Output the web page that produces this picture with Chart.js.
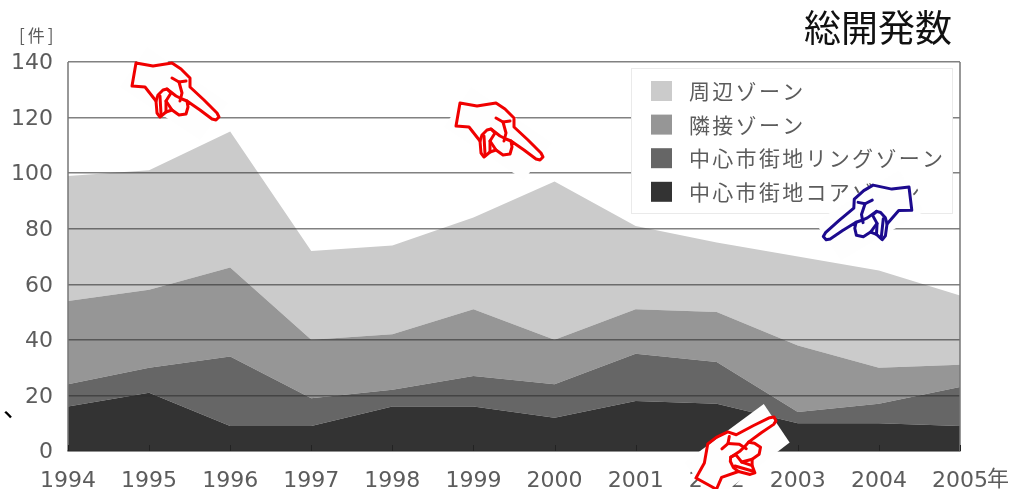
<!DOCTYPE html>
<html lang="ja">
<head>
<meta charset="utf-8">
<title>総開発数</title>
<script src="https://cdn.jsdelivr.net/npm/chart.js@4/dist/chart.umd.min.js"></script>
<style>
    html, body { margin: 0; padding: 0; background: #fff; }
    canvas { display: block; }
</style>
</head>
<body>
<canvas id="developmentChart" width="1013" height="489"></canvas>
<script>
// Number of developments per year and zone, stacked from the centre outwards.
const years = ['1994', '1995', '1996', '1997', '1998', '1999', '2000', '2001', '2002', '2003', '2004', '2005'];
const coreZone = [16, 21, 9, 9, 16, 16, 12, 18, 17, 10, 10, 9];
const ringZone = [8, 9, 25, 10, 6, 11, 12, 17, 15, 4, 7, 14];
const adjacentZone = [30, 28, 32, 21, 20, 24, 16, 16, 18, 24, 13, 8];
const outerZone = [45, 43, 49, 32, 32, 33, 57, 30, 25, 32, 35, 25];

const zoneNames = ['周辺ゾーン', '隣接ゾーン', '中心市街地リングゾーン', '中心市街地コアゾーン'];
const zoneColors = ['#cbcbcb', '#969696', '#666666', '#333333'];
const valueTicks = [0, 20, 40, 60, 80, 100, 120, 140];

const JP_FONT = '"Noto Sans CJK JP", "Noto Sans", sans-serif';
const LABEL_COLOR = '#5c5c5c';

// Outline of the pointing hand, drawn around its own origin at the cuff.
const handOutline = [[0, 0], [17, 3], [36, 0], [45, 6], [54, 15], [54, 24], [68, 37], [81, 50], [83, 54], [80, 57], [76, 56], [64, 47], [51, 38], [52, 44], [50, 51], [43, 52], [36, 47], [30, 49], [24, 54], [21, 50], [20, 38], [9, 24], [-4, 23]];
const handDetails = [
    [[20, 38], [22, 32], [27, 27], [31, 26], [35, 30], [30, 38], [30, 49]],
    [[31, 26], [40, 33], [46, 36], [51, 38]],
    [[30, 38], [36, 47]],
    [[36, 15], [43, 19], [50, 18]],
    [[43, 19], [46, 30], [44, 38]],
    [[24, 33], [25, 51]]
];
const handPatch = [[11, -16], [92, 40], [64, 77], [-16, 24]];

function tracePoints(ctx, points, close) {
    ctx.beginPath();
    points.forEach(([x, y], i) => (i ? ctx.lineTo(x, y) : ctx.moveTo(x, y)));
    if (close) {
        ctx.closePath();
    }
}

// Draws one hand with the white paper patch it was pasted on.
function drawHand(ctx, x, y, color, angle, mirrored) {
    ctx.save();
    ctx.translate(x, y);
    ctx.rotate(angle);
    ctx.scale(mirrored ? -1 : 1, 1);
    tracePoints(ctx, handPatch, true);
    ctx.fillStyle = '#fefefe';
    ctx.fill();
    ctx.strokeStyle = color;
    ctx.lineWidth = 3;
    ctx.lineJoin = 'round';
    ctx.lineCap = 'round';
    tracePoints(ctx, handOutline, true);
    ctx.stroke();
    handDetails.forEach(line => {
        tracePoints(ctx, line, false);
        ctx.stroke();
    });
    ctx.restore();
}

function drawText(ctx, text, x, y, font, color, spacing) {
    ctx.font = font;
    ctx.fillStyle = color;
    ctx.letterSpacing = spacing || '0px';
    ctx.textAlign = 'left';
    ctx.textBaseline = 'middle';
    ctx.fillText(text, x, y);
    ctx.letterSpacing = '0px';
}

// Frame edges, axis ticks inside the plot and the year unit.
const frameDetails = {
    id: 'frameDetails',
    afterDraw(chart) {
        const { ctx, chartArea, scales } = chart;
        ctx.save();
        ctx.strokeStyle = '#777';
        ctx.lineWidth = 1.5;
        ctx.beginPath();
        ctx.moveTo(chartArea.left, chartArea.top);
        ctx.lineTo(chartArea.left, chartArea.bottom);
        ctx.moveTo(chartArea.right, chartArea.top);
        ctx.lineTo(chartArea.right, chartArea.bottom);
        ctx.stroke();
        ctx.strokeStyle = '#222';
        ctx.lineWidth = 1;
        ctx.beginPath();
        years.forEach((year, i) => {
            const x = Math.round(scales.x.getPixelForTick(i)) + 0.5;
            ctx.moveTo(x, chartArea.bottom);
            ctx.lineTo(x, chartArea.bottom - 6);
        });
        ctx.stroke();
        drawText(ctx, '年', 987, 478, '22px ' + JP_FONT, LABEL_COLOR);
        ctx.restore();
    }
};

// Legend box inside the plot, darkest zone last.
const zoneLegend = {
    id: 'zoneLegend',
    afterDraw(chart) {
        const { ctx } = chart;
        ctx.save();
        ctx.fillStyle = '#fff';
        ctx.strokeStyle = '#eaeaea';
        ctx.lineWidth = 1;
        ctx.fillRect(631, 68, 321, 145);
        ctx.strokeRect(631.5, 68.5, 321, 145);
        zoneNames.forEach((name, i) => {
            const rowY = 91 + i * 33.6;
            ctx.fillStyle = zoneColors[i];
            ctx.fillRect(651, rowY - 10, 21, 20);
            drawText(ctx, name, 689, rowY, '21px ' + JP_FONT, LABEL_COLOR, '2.3px');
        });
        ctx.restore();
    }
};

// Title, unit and the hand-placed notes over the finished chart.
const pageNotes = {
    id: 'pageNotes',
    afterDraw(chart) {
        const { ctx } = chart;
        ctx.save();
        drawText(ctx, '総開発数', 804, 28, '37px ' + JP_FONT, '#111');
        drawText(ctx, '[件]', 19, 36, '17px ' + JP_FONT, LABEL_COLOR, '3px');
        drawText(ctx, '、', 3, 407, '26px ' + JP_FONT, '#000');
        drawHand(ctx, 136, 63, '#f00000', 0, false);
        drawHand(ctx, 460, 103, '#f00000', 0, false);
        drawHand(ctx, 909, 187, '#1c0a8e', 3 * Math.PI / 180, true);
        drawHand(ctx, 696, 478, '#f00000', -71 * Math.PI / 180, false);
        ctx.restore();
    }
};

const seriesValues = [coreZone, ringZone, adjacentZone, outerZone];
const datasets = seriesValues.map((values, i) => {
    const zoneIndex = zoneNames.length - 1 - i;
    return {
        label: zoneNames[zoneIndex],
        data: values,
        backgroundColor: zoneColors[zoneIndex],
        borderWidth: 0,
        pointRadius: 0,
        tension: 0,
        fill: i === 0 ? 'origin' : '-1'
    };
});

document.addEventListener('DOMContentLoaded', () => {
    const ctx = document.getElementById('developmentChart').getContext('2d');

    new Chart(ctx, {
        type: 'line',
        data: { labels: years, datasets: datasets },
        plugins: [frameDetails, zoneLegend, pageNotes],
        options: {
            responsive: false,
            animation: false,
            layout: { padding: { top: 62, right: 53, left: 0, bottom: 0 } },
            plugins: {
                legend: { display: false },
                title: { display: false },
                tooltip: { enabled: false }
            },
            scales: {
                x: {
                    offset: false,
                    grid: { display: false },
                    border: { color: '#777', width: 1.5 },
                    afterFit(scale) { scale.height = 38; },
                    ticks: {
                        maxRotation: 0,
                        autoSkip: false,
                        padding: 9,
                        color: LABEL_COLOR,
                        font: { family: '"DejaVu Sans"', size: 22 }
                    }
                },
                y: {
                    stacked: true,
                    min: 0,
                    max: 140,
                    afterFit(scale) { scale.width = 68; },
                    afterBuildTicks(scale) { scale.ticks = valueTicks.map(value => ({ value })); },
                    grid: { color: 'rgba(45, 45, 45, 0.6)', lineWidth: 1.5, z: 1, drawTicks: false },
                    border: { display: false },
                    ticks: {
                        padding: 15,
                        labelOffset: 1.5,
                        color: LABEL_COLOR,
                        font: { family: '"DejaVu Sans"', size: 22 }
                    }
                }
            }
        }
    });
});
</script>
</body>
</html>
